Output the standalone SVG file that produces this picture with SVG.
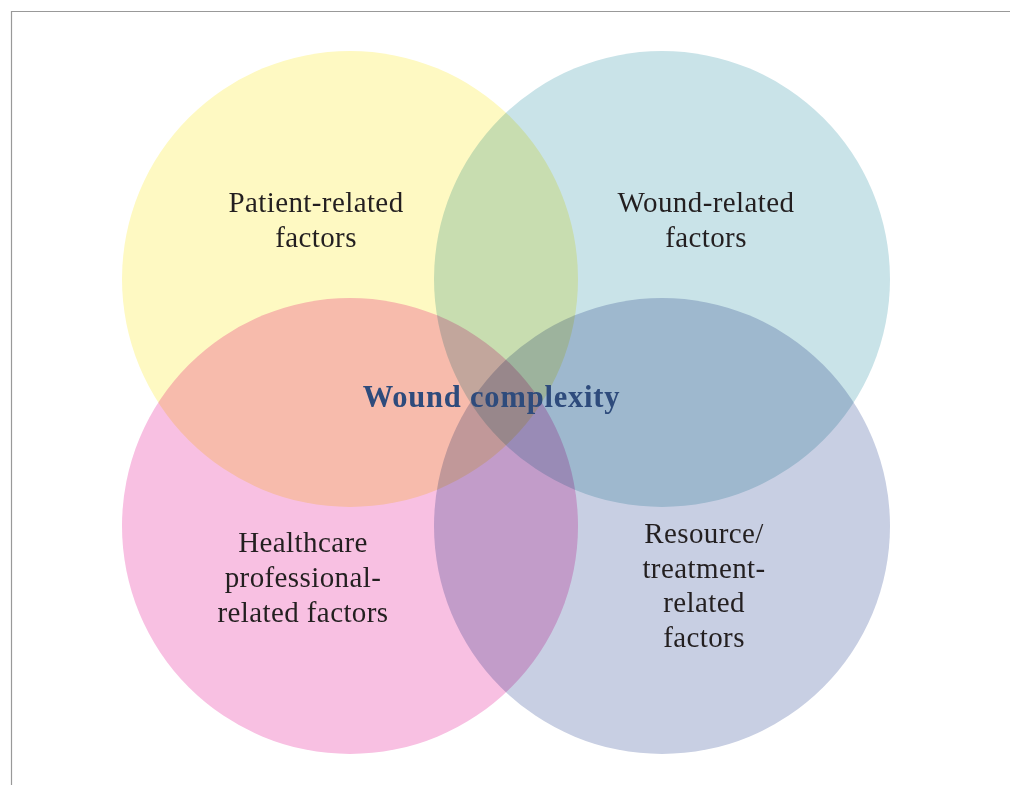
<svg xmlns="http://www.w3.org/2000/svg" width="1010" height="785" viewBox="0 0 1010 785">
<style>
.c{mix-blend-mode:multiply}
.t{font-family:"Liberation Serif","Times New Roman",serif;font-size:29px;fill:#231f20;text-anchor:middle;letter-spacing:0.4px}
.h{font-family:"Liberation Serif","Times New Roman",serif;font-size:30.5px;font-weight:bold;fill:#2e4b7c;text-anchor:middle;letter-spacing:0.8px}
</style>
<rect width="1010" height="785" fill="#ffffff"/>
<path d="M11.5 785 V11.5 H1010" fill="none" stroke="#999999" stroke-width="1.2"/>
<g id="patient">
<circle class="c" cx="350" cy="279" r="228" fill="#fef9c2"/>
</g>
<g id="wound">
<circle class="c" cx="662" cy="279" r="228" fill="#c9e3e8"/>
</g>
<g id="healthcare">
<circle class="c" cx="350" cy="526" r="228" fill="#f8c0e2"/>
</g>
<g id="resource">
<circle class="c" cx="662" cy="526" r="228" fill="#c8cfe3"/>
</g>
<g id="connectors"></g>
<g id="labels">
<text class="t" x="316" y="212">Patient-related</text>
<text class="t" x="316" y="247">factors</text>
<text class="t" x="706" y="212">Wound-related</text>
<text class="t" x="706" y="247">factors</text>
<text class="t" x="303" y="552">Healthcare</text>
<text class="t" x="303" y="587">professional-</text>
<text class="t" x="303" y="622">related factors</text>
<text class="t" x="704" y="543">Resource/</text>
<text class="t" x="704" y="578">treatment-</text>
<text class="t" x="704" y="612">related</text>
<text class="t" x="704" y="647">factors</text>
<text class="h" x="491.5" y="407">Wound complexity</text>
</g>
</svg>
